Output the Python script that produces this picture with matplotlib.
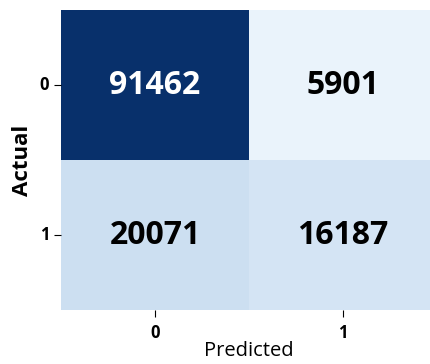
import matplotlib
matplotlib.use("Agg")
import matplotlib.pyplot as plt
import numpy as np
import seaborn as sns

# Confusion matrix counts
class_labels = ["0", "1"]
row_actual_0 = [91462, 5901]
row_actual_1 = [20071, 16187]

cm = np.array([row_actual_0, row_actual_1])

plt.rcParams["font.family"] = ["Open Sans", "DejaVu Sans"]

fig = plt.figure(figsize=(4.30, 3.64), dpi=100)
ax = fig.add_axes([0.142, 0.148, 0.874, 0.824])

sns.heatmap(cm, annot=True, fmt="d", cmap="Blues", vmin=0, cbar=False, ax=ax,
            xticklabels=class_labels, yticklabels=class_labels,
            annot_kws={"fontsize": 23, "fontweight": "bold"})

# dark text on light cells, white on the dark cell
for txt in ax.texts:
    val = int(txt.get_text())
    txt.set_color("white" if val > cm.max() / 2 else "black")

ax.set_xlabel("Predicted", fontsize=14.5, labelpad=-1)
ax.set_ylabel("Actual", fontsize=16, fontweight="bold", labelpad=5)
ax.tick_params(axis="both", labelsize=12, length=5)
ax.tick_params(axis="x", pad=5)
for lbl in ax.get_xticklabels() + ax.get_yticklabels():
    lbl.set_fontweight("bold")
ax.tick_params(axis="y", rotation=0)

fig.savefig("out.png", dpi=100)
